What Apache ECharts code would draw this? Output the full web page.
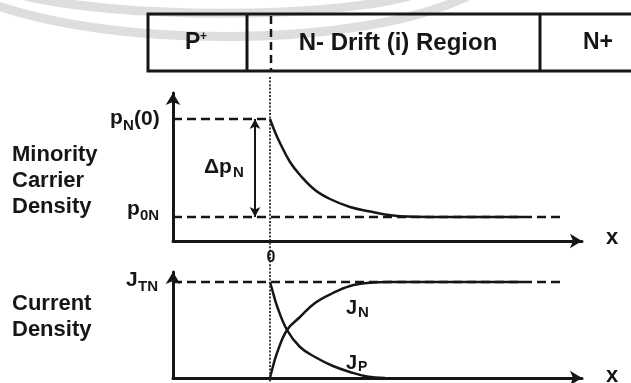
<!DOCTYPE html>
<html>
<head>
<meta charset="utf-8">
<script src="https://cdn.jsdelivr.net/npm/echarts/dist/echarts.min.js"></script>
<style>
  html, body { margin: 0; padding: 0; background: #ffffff; }
  #c { width: 631px; height: 383px; }
</style>
</head>
<body>
<div id="c"></div>
<script>
// Horizontal position: distance from the junction edge (x = 0), arbitrary units.
const xRange = [-9.7, 31.2];
const densityTop = 14.8;   // upper end of the minority-carrier axis
const currentTop = 10.6;   // upper end of the current-density axis

// Reference levels
const pN0 = 12.2;   // hole density at the edge of the drift region, p_N(0)
const p0N = 2.4;    // equilibrium minority density, p_0N
const JTN = 9.6;    // total current density, J_TN
const refEnd = 29.5;      // where the dashed level lines stop
const deltaX = -1.5;      // position of the Δp_N span marker

// Minority carrier density profile
const densityX = [0, 0.5, 1, 2, 3, 4.5, 6, 8, 10, 11.5, 13, 16, 25.3];
const densityY = [12.2, 10.9, 9.8, 7.9, 6.6, 5.1, 4.2, 3.4, 2.95, 2.65, 2.48, 2.4, 2.4];

// Hole current J_P and electron current J_N
const jpX = [0, 0.2, 0.7, 1.7, 3, 4.5, 6.3, 8, 9.7, 11.5];
const jpY = [9.6, 8.9, 7.2, 4.8, 3.1, 2.1, 1.2, 0.6, 0.15, 0];
const jnX = [0, 0.2, 0.7, 1.7, 3, 4.5, 6.3, 8, 9.7, 12, 25.3];
const jnY = [0, 0.8, 2.5, 4.8, 6.1, 7.5, 8.5, 9.2, 9.5, 9.6, 9.6];

// Device regions shown in the strip above the plots
const regionLabels = ['P', 'N- Drift (i) Region', 'N+'];

const ink = '#161616';
const FONT = '"Liberation Sans", Arial, Helvetica, sans-serif';

const pairs = (xs, ys) => xs.map((x, i) => [x, ys[i]]);

function axis(gridIndex, min, max) {
  return {
    type: 'value', gridIndex, min, max,
    axisTick: { show: false },
    axisLabel: { show: false },
    splitLine: { show: false },
    axisLine: {
      show: true, onZero: false,
      symbol: ['none', 'arrow'], symbolSize: [11, 12],
      lineStyle: { color: ink, width: 3 }
    }
  };
}

function curve(name, g, data) {
  return {
    name, type: 'line', xAxisIndex: g, yAxisIndex: g, data,
    smooth: 0.4, showSymbol: false, z: 4,
    lineStyle: { color: ink, width: 2.5 }
  };
}

function dashed(name, g, data) {
  return {
    name, type: 'line', xAxisIndex: g, yAxisIndex: g, data,
    showSymbol: false, z: 3,
    lineStyle: { color: ink, width: 2.5, type: [9, 5] }
  };
}

const chart = echarts.init(document.getElementById('c'), null, { renderer: 'canvas' });

const densityCurve = curve('p', 0, pairs(densityX, densityY));
densityCurve.markLine = {
  silent: true,
  symbol: ['arrow', 'arrow'],
  symbolSize: [8, 10],
  label: { show: false },
  lineStyle: { color: ink, width: 2, type: 'solid' },
  data: [[{ coord: [deltaX, pN0] }, { coord: [deltaX, p0N] }]]
};

chart.setOption({
  animation: false,
  backgroundColor: '#ffffff',
  grid: [
    { left: 173, top: 93, width: 409, height: 148 },
    { left: 173, top: 272, width: 409, height: 106 }
  ],
  xAxis: [axis(0, xRange[0], xRange[1]), axis(1, xRange[0], xRange[1])],
  yAxis: [axis(0, 0, densityTop), axis(1, 0, currentTop)],
  series: [
    dashed('pN0', 0, [[xRange[0], pN0], [0, pN0]]),
    dashed('p0N', 0, [[xRange[0], p0N], [refEnd, p0N]]),
    densityCurve,
    dashed('JTN', 1, [[xRange[0], JTN], [refEnd, JTN]]),
    curve('JP', 1, pairs(jpX, jpY)),
    curve('JN', 1, pairs(jnX, jnY))
  ]
});

// Junction position in pixels, shared by both plots and the region strip
const x0 = chart.convertToPixel({ xAxisIndex: 0 }, 0);
const h = chart.getHeight();

function text(str, x, y, size, align) {
  return {
    type: 'text', z: 10,
    style: {
      text: str, x, y,
      font: 'bold ' + size + 'px ' + FONT,
      fill: ink, align: align || 'left', verticalAlign: 'middle'
    }
  };
}

const graphics = [
  // faint arcs of the background emblem
  { type: 'bezierCurve', z: 0, silent: true,
    shape: { x1: -10, y1: 3, cpx1: 110, cpy1: 48, cpx2: 360, cpy2: 50, x2: 470, y2: -5 },
    style: { stroke: '#dedede', lineWidth: 9, fill: null } },
  { type: 'bezierCurve', z: 0, silent: true,
    shape: { x1: 25, y1: -4, cpx1: 120, cpy1: 18, cpx2: 320, cpy2: 20, x2: 410, y2: -4 },
    style: { stroke: '#dedede', lineWidth: 9, fill: null } },

  // region strip
  { type: 'rect', z: 8, shape: { x: 148, y: 14, width: 500, height: 57 },
    style: { stroke: ink, lineWidth: 3, fill: null } },
  { type: 'line', z: 8, shape: { x1: 247, y1: 14, x2: 247, y2: 71 },
    style: { stroke: ink, lineWidth: 3 } },
  { type: 'line', z: 8, shape: { x1: 540, y1: 14, x2: 540, y2: 71 },
    style: { stroke: ink, lineWidth: 3 } },
  { type: 'line', z: 8, shape: { x1: x0 + 1, y1: 16, x2: x0 + 1, y2: 70 },
    style: { stroke: ink, lineWidth: 2.5, lineDash: [8, 5] } },
  text(regionLabels[0], 185, 43, 23, 'left'),
  text('+', 200, 37, 12, 'left'),
  text(regionLabels[1], 398, 43, 24, 'center'),
  text(regionLabels[2], 598, 43, 23, 'center'),

  // junction marker through both plots
  { type: 'line', z: 6, shape: { x1: x0, y1: 77, x2: x0, y2: h },
    style: { stroke: '#2a2a2a', lineWidth: 1.8, lineDash: [2, 1.6] } },
  text('0', x0 + 1, 258, 16, 'center'),

  // minority carrier density plot
  text('Minority', 12, 155, 22),
  text('Carrier', 12, 181, 22),
  text('Density', 12, 207, 22),
  text('p', 110, 118, 21),
  text('N', 123, 126, 15),
  text('(0)', 134, 119, 21),
  text('\u0394p', 204, 167, 21),
  text('N', 233, 173, 15),
  text('p', 127, 209, 21),
  text('0N', 140, 216, 15),
  text('x', 612, 238, 22, 'center'),

  // current density plot
  text('Current', 12, 304, 22),
  text('Density', 12, 330, 22),
  text('J', 126, 280, 21),
  text('TN', 138, 287, 15),
  text('J', 346, 308, 20),
  text('N', 358, 313, 15),
  text('J', 346, 363, 20),
  text('P', 358, 367, 14),
  text('x', 612, 376, 22, 'center')
];

chart.setOption({ graphic: graphics });
</script>
</body>
</html>
